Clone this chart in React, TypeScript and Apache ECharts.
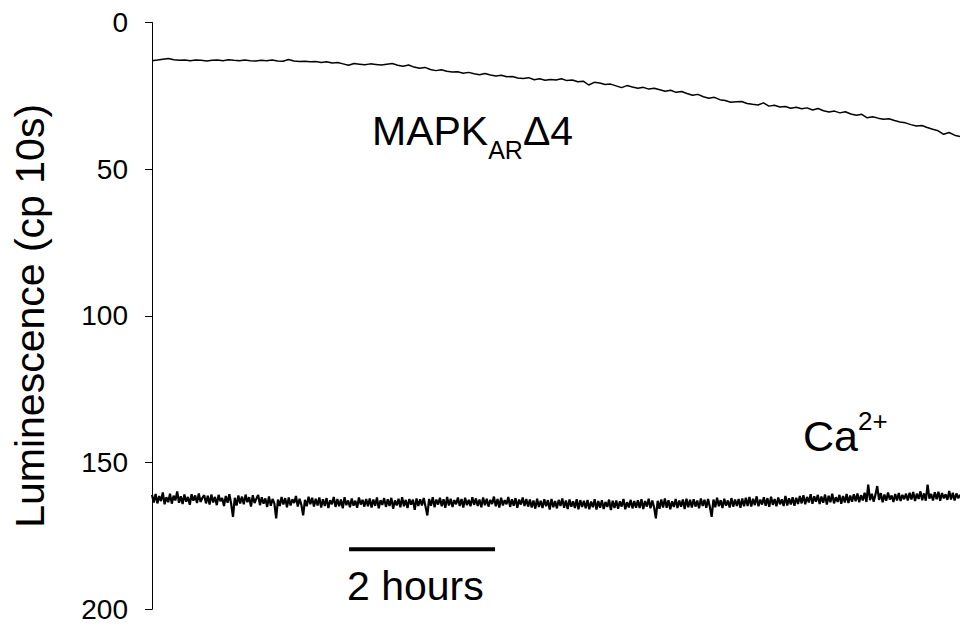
import React, { useEffect, useRef } from "react";
import * as echarts from "echarts";

const FONT = "'Liberation Sans', Arial, Helvetica, sans-serif";

// time axis in hours (hidden); traces span the full plot width
const X_MAX = 11.07;
const yTicks = [0, 50, 100, 150, 200];

// MAPK_AR Δ4 trace (luminescence, cp 10s), uniformly sampled
const mapkValues = [
  13.0, 12.8, 12.5, 12.3, 12.7, 12.9, 12.8,
  13.0, 12.8, 12.9, 13.1, 12.9, 12.8, 13.0,
  12.7, 12.9, 13.0, 12.8, 13.0, 13.1, 12.9,
  13.0, 12.8, 13.1, 13.2, 12.6, 13.1, 13.3,
  13.2, 13.4, 13.3, 13.6, 13.4, 13.8, 13.6,
  14.1, 14.6, 14.0, 14.2, 14.4, 14.1, 14.3,
  14.5, 14.2, 14.0, 14.6, 14.9, 14.5, 15.2,
  15.6, 15.3, 16.0, 16.4, 16.1, 16.6, 16.9,
  16.8, 17.3, 17.0, 17.5, 17.8, 17.4, 17.9,
  18.2, 18.0, 18.5, 18.4, 18.9, 19.1, 18.8,
  19.5, 19.2, 19.7, 19.4, 19.6, 19.2, 19.8,
  19.6, 20.2, 20.0, 21.3, 20.4, 20.6, 21.1,
  21.0, 21.6, 22.2, 21.5, 22.0, 22.4, 22.1,
  22.7, 22.4, 22.9, 23.4, 23.1, 23.8, 23.5,
  24.2, 24.8, 24.5, 25.3, 25.8, 25.5, 26.3,
  26.6, 27.2, 27.0, 26.9, 27.6, 27.9, 28.1,
  27.4, 28.5, 28.2, 28.8, 28.6, 29.2, 28.9,
  29.4, 29.1, 29.8, 29.3, 30.1, 30.5, 30.2,
  30.8, 30.4, 31.2, 31.6, 31.3, 32.5, 32.1,
  32.6, 33.0, 32.8, 33.4, 33.9, 34.2, 34.8,
  35.3, 35.1, 35.8, 36.4, 36.9, 38.1, 37.5,
  38.4, 38.9,
];

// Ca2+ trace (luminescence, cp 10s), uniformly sampled
const caValues = [
  161.0, 163.6, 160.7, 163.9, 161.4, 163.1, 160.2, 164.2, 161.8, 163.5, 160.6, 164.0, 161.3, 162.9, 159.8, 163.7, 161.5, 164.1, 160.9, 163.3, 161.7, 164.4, 160.8, 163.0, 161.2, 163.8, 160.5, 163.4, 162.0, 161.1,
  163.9, 161.3, 164.3, 160.9, 163.6, 161.7, 164.5, 161.0, 163.2, 162.1, 164.8, 161.4, 163.7, 160.8, 164.1, 168.5, 162.0, 164.6, 161.2, 163.9, 161.6, 164.2, 160.9, 163.5, 161.8, 165.0, 161.1, 163.8, 162.3, 161.0,
  164.5, 161.8, 164.0, 162.2, 165.1, 161.5, 164.7, 162.4, 163.9, 169.0, 162.6, 164.8, 161.7, 164.3, 162.1, 165.2, 161.9, 164.6, 162.5, 163.8, 161.4, 165.0, 162.3, 164.4, 168.0, 162.7, 164.9, 161.6, 164.2, 162.0,
  165.0, 162.3, 164.6, 161.9, 165.3, 162.5, 164.8, 162.1, 165.5, 162.8, 164.2, 161.7, 165.1, 162.4, 164.9, 162.6, 165.6, 161.8, 164.5, 162.9, 165.2, 162.2, 164.7, 163.0, 165.4, 161.9, 164.3, 162.7, 165.0, 162.4,
  164.9, 162.2, 165.3, 162.6, 164.7, 161.9, 165.6, 162.8, 164.4, 162.1, 165.1, 162.5, 164.8, 162.0, 165.7, 162.9, 164.6, 162.3, 165.2, 161.8, 164.9, 162.7, 165.5, 162.4, 164.3, 162.6, 166.1, 162.2, 164.8, 162.5,
  164.6, 162.1, 165.0, 168.0, 162.4, 164.7, 161.8, 165.2, 162.6, 164.3, 162.0, 164.9, 162.5, 165.4, 161.7, 164.6, 162.3, 165.1, 162.8, 164.2, 161.9, 164.8, 162.4, 165.3, 162.0, 164.5, 162.7, 164.9, 161.8, 164.4,
  162.2, 164.8, 162.6, 165.2, 161.9, 164.5, 162.3, 165.0, 162.7, 164.1, 161.6, 164.9, 162.4, 165.3, 162.0, 164.6, 162.8, 164.2, 161.7, 165.1, 162.5, 164.7, 162.1, 165.4, 162.6, 164.3, 161.9, 164.8, 162.4, 165.0,
  162.6, 165.3, 162.9, 165.7, 162.3, 165.1, 163.0, 165.5, 162.5, 164.9, 162.8, 166.0, 162.4, 165.2, 163.1, 165.6, 162.7, 164.8, 162.2, 165.4, 162.9, 165.8, 162.6, 165.0, 163.2, 165.5, 162.5, 165.9, 162.8, 165.1,
  163.0, 165.6, 162.7, 165.9, 163.3, 165.2, 162.5, 166.0, 163.1, 165.4, 162.8, 165.8, 163.4, 165.1, 162.6, 166.2, 163.0, 165.5, 162.9, 165.7, 163.2, 165.0, 162.4, 165.9, 163.5, 165.3, 162.7, 165.6, 163.1, 165.4,
  162.8, 165.5, 162.5, 165.8, 163.1, 165.0, 162.3, 165.6, 162.9, 165.2, 169.0, 163.0, 165.7, 162.6, 165.3, 162.2, 165.4, 162.8, 165.9, 163.2, 165.1, 162.4, 165.5, 162.9, 165.0, 162.6, 165.8, 162.3, 165.2, 162.7,
  165.3, 162.5, 165.0, 162.9, 165.6, 162.2, 164.8, 162.7, 165.4, 162.4, 165.1, 168.5, 162.6, 165.2, 162.0, 164.9, 162.8, 165.5, 162.3, 164.7, 162.9, 165.3, 162.1, 165.0, 162.6, 164.8, 162.4, 165.4, 162.2, 164.9,
  162.0, 164.8, 161.7, 165.0, 162.3, 164.5, 161.5, 164.9, 162.6, 164.3, 161.8, 164.7, 162.1, 165.1, 161.6, 164.4, 162.4, 164.9, 161.9, 164.2, 162.5, 164.8, 161.4, 164.6, 162.2, 164.3, 161.8, 164.7, 162.0, 164.1,
  161.4, 163.9, 161.1, 164.2, 161.7, 163.6, 160.8, 164.0, 161.5, 163.3, 161.0, 164.1, 161.6, 163.7, 160.9, 164.3, 161.3, 163.5, 160.6, 163.9, 161.8, 163.4, 161.0, 164.0, 161.4, 163.6, 160.7, 163.8, 161.2, 163.3,
  160.8, 163.2, 160.5, 163.5, 161.1, 162.9, 160.3, 163.4, 157.5, 162.8, 160.6, 163.3, 161.0, 158.0, 162.7, 160.4, 163.5, 160.9, 163.0, 160.2, 162.6, 161.2, 163.4, 160.7, 162.9, 160.4, 163.1, 161.0, 162.5, 160.6,
  162.9, 160.3, 162.6, 160.0, 163.1, 160.6, 162.4, 159.8, 162.8, 160.5, 163.0, 157.5, 162.3, 160.7, 162.9, 160.1, 162.5, 159.9, 163.0, 160.4, 162.2, 160.8, 162.7, 159.7, 162.6, 160.3, 162.9, 160.5, 162.1, 161.0,
];

// scale bar: 2 hours
const scaleBarStart = 2.7;
const scaleBarHours = 2;
const scaleBarLevel = 179.5;

function toPairs(values: number[]): [number, number][] {
  const step = X_MAX / (values.length - 1);
  return values.map((v, i) => [i * step, v]);
}

export default function App() {
  const ref = useRef<HTMLDivElement>(null);

  useEffect(() => {
    if (!ref.current) return;
    const chart = echarts.init(ref.current, undefined, { renderer: "svg" });
    chart.setOption({
      animation: false,
      backgroundColor: "#ffffff",
      grid: { left: 152, right: 0, top: 22.5, bottom: 17.7, containLabel: false },
      xAxis: { type: "value", min: 0, max: X_MAX, show: false },
      yAxis: {
        type: "value",
        inverse: true,
        min: yTicks[0],
        max: yTicks[yTicks.length - 1],
        interval: 50,
        name: "Luminescence (cp 10s)",
        nameLocation: "middle",
        nameGap: 102,
        nameTextStyle: { fontFamily: FONT, fontSize: 41, color: "#000" },
        axisLine: { show: true, lineStyle: { color: "#000", width: 1 } },
        axisTick: { show: true, inside: false, length: 7, lineStyle: { color: "#000", width: 1 } },
        axisLabel: { fontFamily: FONT, fontSize: 28, color: "#000", margin: 24 },
        splitLine: { show: false },
      },
      series: [
        {
          name: "MAPK",
          type: "line",
          data: toPairs(mapkValues),
          symbol: "none",
          lineStyle: { color: "#000", width: 1.5 },
          silent: true,
        },
        {
          name: "Ca",
          type: "line",
          data: toPairs(caValues),
          symbol: "none",
          lineStyle: { color: "#000", width: 2.2 },
          silent: true,
        },
        {
          name: "scale",
          type: "line",
          data: [
            [scaleBarStart, scaleBarLevel],
            [scaleBarStart + scaleBarHours, scaleBarLevel],
          ],
          symbol: "none",
          lineStyle: { color: "#000", width: 4, cap: "butt" },
          silent: true,
        },
      ],
      graphic: [
        {
          type: "text",
          x: 372,
          y: 110,
          style: {
            text: "{a|MAPK}{b|AR}{c|Δ4}",
            align: "left",
            verticalAlign: "top",
            fill: "#000",
            rich: {
              a: { fontFamily: FONT, fontSize: 41, lineHeight: 41, verticalAlign: "top", fill: "#000" },
              b: { fontFamily: FONT, fontSize: 25, lineHeight: 80, verticalAlign: "middle", fill: "#000" },
              c: { fontFamily: FONT, fontSize: 41, lineHeight: 41, verticalAlign: "top", fill: "#000" },
            },
          },
        },
        {
          type: "text",
          x: 803,
          y: 407.5,
          style: {
            text: "{a|Ca}{b|2+}",
            align: "left",
            verticalAlign: "top",
            fill: "#000",
            rich: {
              a: { fontFamily: FONT, fontSize: 43, lineHeight: 57, verticalAlign: "middle", fill: "#000" },
              b: { fontFamily: FONT, fontSize: 26, lineHeight: 26, verticalAlign: "top", fill: "#000" },
            },
          },
        },
        {
          type: "text",
          x: 347,
          y: 565,
          style: {
            text: "2 hours",
            fontFamily: FONT,
            fontSize: 41,
            lineHeight: 41,
            align: "left",
            verticalAlign: "top",
            fill: "#000",
          },
        },
      ],
    });
    return () => chart.dispose();
  }, []);

  return (
    <div
      ref={ref}
      style={{ position: "absolute", left: 0, top: 0, width: 960, height: 627, background: "#fff" }}
    />
  );
}
